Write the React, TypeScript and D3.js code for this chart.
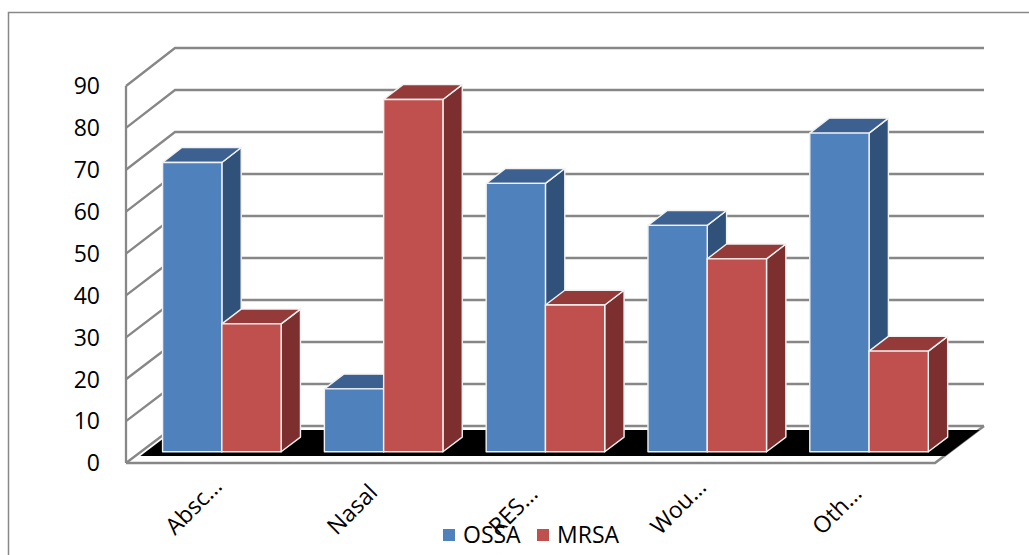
import React from "react";
import * as d3 from "d3";

// Sample sites and isolate counts per organism group
const categories = ["Absc…", "Nasal", "RES…", "Wou…", "Oth…"];
const seriesNames = ["OSSA", "MRSA"];
const ossaValues = [69, 15, 64, 54, 76];
const mrsaValues = [30.5, 84, 35, 46, 24];
const yTicks = [0, 10, 20, 30, 40, 50, 60, 70, 80, 90];

const W = 1029;
const H = 555;

// 3D frame geometry
const frontLeft = 126;
const frontRight = 935;
const depthDx = 49;
const plotW = frontRight - frontLeft;
const yFront = d3.scaleLinear().domain([0, 90]).range([463, 86]);
const yBack = d3.scaleLinear().domain([0, 90]).range([426, 48]);

const project = (xPx: number, v: number, z: number): [number, number] => {
  const yf = yFront(v);
  const yb = yBack(v);
  return [frontLeft + xPx + z * depthDx, yf + z * (yb - yf)];
};

const xCat = d3.scaleBand<string>().domain(categories).range([0, plotW]).padding(0);
const xSeries = d3
  .scaleBand<string>()
  .domain(seriesNames)
  .range([0, xCat.bandwidth()])
  .paddingInner(0)
  .paddingOuter(0.365);

const zFront = 0.305;
const zBackBar = 0.7;

const palette = {
  OSSA: { front: "#4F81BD", top: "#3C6191", side: "#30527A" },
  MRSA: { front: "#C0504D", top: "#943B39", side: "#7C2F2E" },
} as Record<string, { front: string; top: string; side: string }>;

const gridColor = "#878787";
const font = "'Open Sans', 'Liberation Sans', sans-serif";

const pts = (p: [number, number][]) => p.map((q) => q.join(",")).join(" ");

function Bar({ x0, x1, v, colors }: { x0: number; x1: number; v: number; colors: { front: string; top: string; side: string } }) {
  const fBL = project(x0, 0, zFront);
  const fBR = project(x1, 0, zFront);
  const fTL = project(x0, v, zFront);
  const fTR = project(x1, v, zFront);
  const bTL = project(x0, v, zBackBar);
  const bTR = project(x1, v, zBackBar);
  const bBR = project(x1, 0, zBackBar);
  const stroke = { stroke: "#F2F2F2", strokeWidth: 1.4, strokeLinejoin: "round" as const };
  return (
    <g>
      <polygon points={pts([fBR, fTR, bTR, bBR])} fill={colors.side} {...stroke} />
      <polygon points={pts([fTL, fTR, bTR, bTL])} fill={colors.top} {...stroke} />
      <polygon points={pts([fBL, fBR, fTR, fTL])} fill={colors.front} {...stroke} />
    </g>
  );
}

export default function App() {
  const seriesValues: Record<string, number[]> = { OSSA: ossaValues, MRSA: mrsaValues };

  // Dark floor slab sitting inside the floor outline
  const floorInset = 5;
  const floorPoly: [number, number][] = [
    project(floorInset, 0, 0.19),
    project(plotW + floorInset * 0.2, 0, 0.19),
    project(plotW + floorInset * 0.2, 0, 0.89),
    project(floorInset, 0, 0.89),
  ];

  const legendX = 443;
  const legendStep = 94;

  return (
    <div style={{ position: "fixed", left: 0, top: 0, width: W, height: H, background: "#fff" }}>
      <svg width={W} height={H} style={{ display: "block" }}>
        <rect x={8.5} y={12.5} width={1040} height={560} fill="#fff" stroke="#888" strokeWidth={1.5} />

        {/* side wall and back wall gridlines */}
        {yTicks.map((t) => {
          const a = project(0, t, 0);
          const b = project(0, t, 1);
          const c = project(plotW, t, 1);
          return (
            <polyline
              key={"g" + t}
              points={pts([a, b, c])}
              fill="none"
              stroke={gridColor}
              strokeWidth={2.3}
            />
          );
        })}

        {/* vertical axis line */}
        <line
          x1={frontLeft}
          x2={frontLeft}
          y1={yFront(0)}
          y2={yFront(90)}
          stroke={gridColor}
          strokeWidth={2.3}
        />

        {/* floor outline */}
        <polyline
          points={pts([project(0, 0, 0), project(plotW, 0, 0), project(plotW, 0, 1)])}
          fill="none"
          stroke={gridColor}
          strokeWidth={2.6}
        />
        <polygon points={pts(floorPoly)} fill="#000" />

        {/* bars */}
        {categories.map((cat, i) =>
          seriesNames.map((s) => {
            const x0 = (xCat(cat) ?? 0) + (xSeries(s) ?? 0);
            const x1 = x0 + xSeries.bandwidth();
            return <Bar key={cat + s} x0={x0} x1={x1} v={seriesValues[s][i]} colors={palette[s]} />;
          })
        )}

        {/* value axis labels */}
        {yTicks.map((t) => (
          <text
            key={"t" + t}
            x={100}
            y={yFront(t)}
            dy="0.36em"
            textAnchor="end"
            fontFamily={font}
            fontSize={23}
            fill="#000"
          >
            {t}
          </text>
        ))}

        {/* category labels */}
        {categories.map((cat) => {
          const cx = frontLeft + (xCat(cat) ?? 0) + xCat.bandwidth() / 2 - 32;
          const cy = 536;
          return (
            <text
              key={"c" + cat}
              x={cx}
              y={cy}
              transform={`rotate(-45 ${cx} ${cy})`}
              fontFamily={font}
              fontSize={23}
              fill="#000"
            >
              {cat}
            </text>
          );
        })}

        {/* legend */}
        {seriesNames.map((s, i) => (
          <g key={"l" + s} transform={`translate(${legendX + i * legendStep},0)`}>
            <rect x={0} y={529} width={12} height={12} fill={palette[s].front} />
            <text x={20} y={543} fontFamily={font} fontSize={23} fill="#000">
              {s}
            </text>
          </g>
        ))}
      </svg>
    </div>
  );
}
